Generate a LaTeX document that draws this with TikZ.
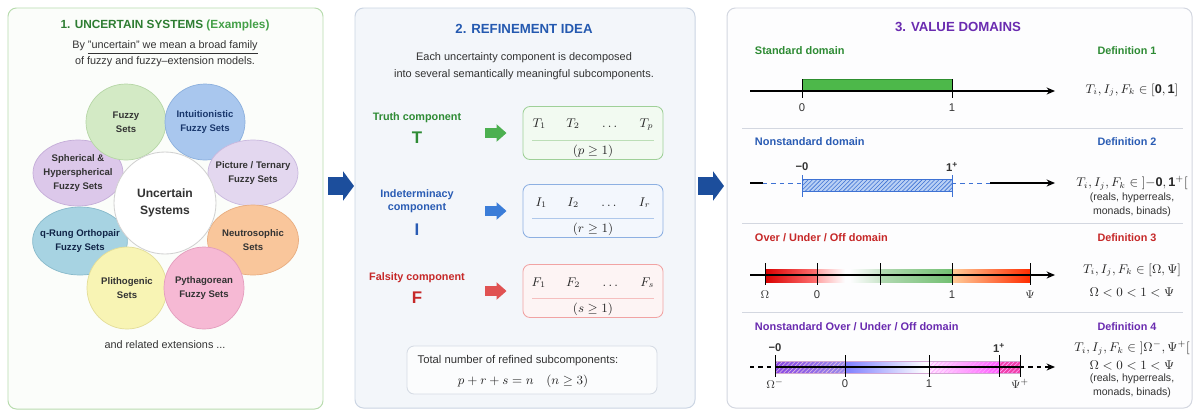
\documentclass[tikz,border=0pt]{standalone}
\usepackage{fontspec}
\setmainfont{Liberation Sans}
\usetikzlibrary{positioning,shapes.geometric,arrows.meta,patterns}

\definecolor{ttlgreen}{HTML}{2E7D32}
\definecolor{exgreen}{HTML}{43A047}
\definecolor{ttlblue}{HTML}{2459B0}
\definecolor{ttlpurple}{HTML}{6A2BB0}
\definecolor{txtgray}{HTML}{333333}
\definecolor{lblgreen}{HTML}{2E8B34}
\definecolor{lblblue}{HTML}{2A5CB4}
\definecolor{lblred}{HTML}{C62828}
\definecolor{bigblue}{HTML}{1C4E9C}
\definecolor{arrgreen}{HTML}{4CB050}
\definecolor{arrblue}{HTML}{3B7DD8}
\definecolor{arrred}{HTML}{E05252}
\definecolor{pnlAfill}{HTML}{FBFDFA}
\definecolor{pnlAline}{HTML}{B8DCAE}
\definecolor{pnlBfill}{HTML}{F3F6FA}
\definecolor{pnlBline}{HTML}{CBD5E3}
\definecolor{pnlCfill}{HTML}{FDFDFE}
\definecolor{pnlCline}{HTML}{D3D7E0}
\definecolor{tboxfill}{HTML}{F2FAF1}
\definecolor{tboxline}{HTML}{9FD098}
\definecolor{iboxfill}{HTML}{F3F7FD}
\definecolor{iboxline}{HTML}{8DB0E2}
\definecolor{fboxfill}{HTML}{FDF4F4}
\definecolor{fboxline}{HTML}{F1A3A3}
\definecolor{nboxfill}{HTML}{FBFCFD}
\definecolor{nboxline}{HTML}{D5DBE4}
\definecolor{fuzzyfill}{HTML}{D3EAC5}
\definecolor{fuzzyline}{HTML}{B6D6A6}
\definecolor{intufill}{HTML}{A9C7EE}
\definecolor{intuline}{HTML}{8CB0DD}
\definecolor{pictfill}{HTML}{E3D7EF}
\definecolor{pictline}{HTML}{C9B8DE}
\definecolor{neutfill}{HTML}{F9C69B}
\definecolor{neutline}{HTML}{E8AD80}
\definecolor{pythfill}{HTML}{F6B9D4}
\definecolor{pythline}{HTML}{E49DBD}
\definecolor{plithfill}{HTML}{F8F4B4}
\definecolor{plithline}{HTML}{E3DD98}
\definecolor{qrungfill}{HTML}{A7D3E2}
\definecolor{qrungline}{HTML}{88BACB}
\definecolor{spherfill}{HTML}{DCC8EA}
\definecolor{spherline}{HTML}{C4ADD8}
\definecolor{bargreen}{HTML}{4DB84A}
\definecolor{bargreenline}{HTML}{2F8F2F}
\definecolor{hatchblue}{HTML}{3E72D4}
\definecolor{barblue}{HTML}{B9D0F4}
\definecolor{purpA}{HTML}{8A46E4}
\definecolor{purpB}{HTML}{9A8AEC}

\newcommand{\pxl}{0.025cm}
\newcommand{\ttlfont}{\fontsize{9.4}{11}\selectfont\bfseries}

\tikzset{
  panel/.style={rounded corners=6pt, line width=0.7pt},
  petal/.style={ellipse, inner sep=-4.5pt, align=center, text=txtgray,
    font=\fontsize{6.8}{10}\selectfont\bfseries, line width=0.5pt},
  bigarrow/.style={draw=bigblue, line width=12.8pt,
    -{Triangle[length=7.8pt,width=20.6pt]}},
  fatarrow/.style={line width=7.1pt, -{Triangle[length=7.1pt,width=12pt]},
    shorten >=11.4pt},
  compbox/.style={rounded corners=5pt, minimum width=140*\pxl,
    minimum height=53*\pxl, line width=0.6pt},
  complab/.style={font=\fontsize{7.7}{9.2}\selectfont\bfseries, align=center},
  compsym/.style={font=\fontsize{12}{14}\selectfont\bfseries},
  rowmath/.style={font=\fontsize{9}{11}\selectfont, text=black!85},
  secname/.style={anchor=west, font=\fontsize{7.8}{9}\selectfont\bfseries},
  defname/.style={font=\fontsize{7.7}{9}\selectfont\bfseries},
  defmath/.style={font=\fontsize{9}{11}\selectfont, text=black!85},
  defnote/.style={font=\fontsize{7.5}{10}\selectfont, align=center, text=txtgray},
  ticklab/.style={font=\fontsize{8}{9}\selectfont, text=black!80},
  numaxis/.style={line width=0.8pt, -{Stealth[length=6pt,width=5pt]}},
  axtick/.style={line width=0.7pt},
  sepline/.style={draw=pnlCline, line width=0.7pt},
}

\begin{document}
\begin{tikzpicture}[x=0.025cm, y=-0.025cm]
\useasboundingbox[fill=white] (0,0) rectangle (1196,410);

% three panels
\draw[panel, draw=pnlAline, fill=pnlAfill] (8,8) rectangle (323,409);
\draw[panel, draw=pnlBline, fill=pnlBfill] (355,8) rectangle (695,408);
\draw[panel, draw=pnlCline, fill=pnlCfill] (727,8) rectangle (1192,408);

% arrows between the panels
\coordinate (gapAin) at (328,186);
\coordinate (gapAout) at (354,186);
\coordinate (gapBin) at (698,186);
\coordinate (gapBout) at (724,186);
\draw[bigarrow] (gapAin) -- (gapAout);
\draw[bigarrow] (gapBin) -- (gapBout);

% 1. uncertain systems
\node[font=\fontsize{8.4}{10}\selectfont\bfseries, text=ttlgreen] (ttlA) at (165,25)
  {1. UNCERTAIN SYSTEMS \textcolor{exgreen}{(Examples)}};
\node[font=\fontsize{7.7}{11.4}\selectfont, text=txtgray, align=center] (introA) at (165,54)
  {By \underline{"uncertain" we mean a broad family}\\of fuzzy and fuzzy–extension models.};

\node[petal, draw=spherline, fill=spherfill, minimum width=90*\pxl, minimum height=66*\pxl]
  (spher) at (78,173) {Spherical \&\\Hyperspherical\\Fuzzy Sets};
\node[petal, draw=fuzzyline, fill=fuzzyfill, minimum width=80*\pxl, minimum height=76*\pxl]
  (fuzzy) at (126,122) {Fuzzy\\Sets};
\node[petal, draw=intuline, fill=intufill, minimum width=80*\pxl, minimum height=76*\pxl,
  text=lblblue!60!black] (intu) at (205,122) {Intuitionistic\\Fuzzy Sets};
\node[petal, draw=pictline, fill=pictfill, minimum width=90*\pxl, minimum height=66*\pxl]
  (pict) at (253,173) {Picture / Ternary\\Fuzzy Sets};
\node[petal, draw=neutline, fill=neutfill, minimum width=91*\pxl, minimum height=70*\pxl]
  (neut) at (253,240) {Neutrosophic\\Sets};
\node[petal, draw=qrungline, fill=qrungfill, minimum width=93*\pxl, minimum height=68*\pxl,
  text=lblblue!40!black] (qrung) at (80,241) {q-Rung Orthopair\\Fuzzy Sets};
\node[petal, draw=plithline, fill=plithfill, minimum width=80*\pxl, minimum height=82*\pxl]
  (plith) at (127,288) {Plithogenic\\Sets};
\node[petal, draw=pythline, fill=pythfill, minimum width=80*\pxl, minimum height=82*\pxl]
  (pyth) at (204,288) {Pythagorean\\Fuzzy Sets};
\node[circle, fill=white, draw=black!18, line width=0.6pt, minimum size=102*\pxl, align=center,
  font=\fontsize{8.6}{12.5}\selectfont\bfseries, text=txtgray] (core) at (165,203)
  {Uncertain\\Systems};
\node[font=\fontsize{7.7}{9}\selectfont, text=txtgray] (moreA) at (165,345)
  {and related extensions ...};

% 2. refinement idea
\node[font=\ttlfont, text=ttlblue] (ttlB) at (524,29) {2. REFINEMENT IDEA};
\node[font=\fontsize{7.8}{12}\selectfont, text=txtgray, align=center] (introB) at (524,66)
  {Each uncertainty component is decomposed\\into several semantically meaningful subcomponents.};

\node[complab, text=lblgreen] (tlab) at (417,118) {Truth component};
\node[compsym, text=lblgreen] (tsym) at (417,138) {T};
\node[compbox, draw=tboxline, fill=tboxfill] (tbox) at (593,133) {};
\node[rowmath] (trow) at (593,124.5) {$T_1 \hspace{1.6em} T_2 \hspace{1.6em} \ldots \hspace{1.6em} T_p$};
\draw[draw=tboxline!70] (532,140.5) -- (654,140.5);
\node[rowmath] (tcond) at (593,151.5) {$(p \geq 1)$};
\coordinate (tfrom) at (485,133);
\draw[fatarrow, draw=arrgreen] (tfrom) -- (tbox);

\node[complab, text=lblblue] (ilab) at (417,201) {Indeterminacy\\component};
\node[compsym, text=lblblue] (isym) at (417,230) {I};
\node[compbox, draw=iboxline, fill=iboxfill] (ibox) at (593,211) {};
\node[rowmath] (irow) at (593,202.5) {$I_1 \hspace{1.6em} I_2 \hspace{1.6em} \ldots \hspace{1.6em} I_r$};
\draw[draw=iboxline!70] (532,218.5) -- (654,218.5);
\node[rowmath] (icond) at (593,229.5) {$(r \geq 1)$};
\coordinate (ifrom) at (485,211);
\draw[fatarrow, draw=arrblue] (ifrom) -- (ibox);

\node[complab, text=lblred] (flab) at (417,278) {Falsity component};
\node[compsym, text=lblred] (fsym) at (417,298) {F};
\node[compbox, draw=fboxline, fill=fboxfill] (fbox) at (593,291) {};
\node[rowmath] (frow) at (593,282.5) {$F_1 \hspace{1.6em} F_2 \hspace{1.6em} \ldots \hspace{1.6em} F_s$};
\draw[draw=fboxline!70] (532,298.5) -- (654,298.5);
\node[rowmath] (fcond) at (593,309.5) {$(s \geq 1)$};
\coordinate (ffrom) at (485,291);
\draw[fatarrow, draw=arrred] (ffrom) -- (fbox);

\node[draw=nboxline, fill=nboxfill, rounded corners=5pt, minimum width=250*\pxl,
  minimum height=48*\pxl, line width=0.6pt] (nbox) at (532,370) {};
\node[font=\fontsize{8}{9}\selectfont, text=txtgray] (ntext) at (518,361)
  {Total number of refined subcomponents:};
\node[rowmath] (nmath) at (523,381) {$p + r + s = n \quad (n \geq 3)$};

% 3. value domains
\node[font=\ttlfont, text=ttlpurple] (ttlC) at (958,27) {3. VALUE DOMAINS};

% standard
\node[secname, text=lblgreen] (secA) at (750,51) {Standard domain};
\node[defname, text=lblgreen] (defA) at (1127,51) {Definition 1};
\draw[draw=bargreenline, fill=bargreen, line width=0.6pt] (802,79) rectangle (952,91);
\draw[numaxis] (750,91) -- (1055,91);
\draw[axtick] (802,79) -- (802,98);
\draw[axtick] (952,79) -- (952,98);
\node[ticklab] at (802,108) {0};
\node[ticklab] at (952,108) {1};
\node[defmath] (mathA) at (1132,90) {$T_i, I_j, F_k \in \mathbf{[0,1]}$};
\draw[sepline] (742,128) -- (1183,128);

% nonstandard
\node[secname, text=lblblue] (secB) at (750,142) {Nonstandard domain};
\node[defname, text=lblblue] (defB) at (1127,142) {Definition 2};
\fill[barblue] (802,179) rectangle (952,191);
\fill[pattern=north east lines, pattern color=hatchblue] (802,179) rectangle (952,191);
\draw[draw=hatchblue, line width=0.6pt] (802,179) rectangle (952,191);
\draw[line width=0.8pt] (750,183) -- (763,183);
\draw[line width=0.7pt, hatchblue, dashed] (763,183) -- (802,183);
\draw[line width=0.7pt, hatchblue, dashed] (952,183) -- (990,183);
\draw[numaxis] (990,183) -- (1055,183);
\draw[axtick, hatchblue] (802,175) -- (802,197);
\draw[axtick, hatchblue] (952,175) -- (952,197);
\node[ticklab, font=\fontsize{8}{9}\selectfont\bfseries] at (802,167) {−0};
\node[ticklab, font=\fontsize{8}{9}\selectfont\bfseries] at (952,167) {1\textsuperscript{+}};
\node[defmath] (mathB) at (1132,183) {$T_i, I_j, F_k \in \mathbf{]{-}0, 1^{+}[}$};
\node[defnote] (noteB) at (1132,205) {(reals, hyperreals,\\monads, binads)};
\draw[sepline] (742,223) -- (1183,223);

% over / under / off
\node[secname, text=lblred] (secC) at (750,238) {Over / Under / Off domain};
\node[defname, text=lblred] (defC) at (1127,238) {Definition 3};
\shade[left color=red!85!black, right color=red!55!white] (765,269) rectangle (817,282);
\shade[left color=red!35!white, right color=pnlCfill] (817,269) rectangle (845,282);
\shade[left color=pnlCfill, right color=green!50!black!20] (850,269) rectangle (880,282);
\shade[left color=green!50!black!30, right color=green!55!black!55] (880,269) rectangle (952,282);
\shade[left color=orange!40!white, right color=red!65!orange] (952,269) rectangle (1030,282);
\draw[numaxis] (750,275) -- (1055,275);
\draw[axtick] (765,263) -- (765,285);
\draw[axtick] (817,263) -- (817,285);
\draw[axtick] (880,263) -- (880,285);
\draw[axtick] (952,263) -- (952,285);
\draw[axtick] (1030,263) -- (1030,285);
\node[ticklab] at (765,295) {$\Omega$};
\node[ticklab] at (817,295) {0};
\node[ticklab] at (952,295) {1};
\node[ticklab] at (1030,295) {$\Psi$};
\node[defmath] (mathC) at (1132,270) {$T_i, I_j, F_k \in [\Omega, \Psi]$};
\node[defmath] (ordC) at (1132,292) {$\Omega < 0 < 1 < \Psi$};
\draw[sepline] (742,312) -- (1183,312);

% nonstandard over / under / off
\node[secname, text=ttlpurple] (secD) at (750,327) {Nonstandard Over / Under / Off domain};
\node[defname, text=ttlpurple] (defD) at (1127,327) {Definition 4};
\shade[left color=purpA, right color=purpB] (775,361) rectangle (845,373);
\shade[left color=blue!50!white, right color=pnlCfill] (845,361) rectangle (925,373);
\shade[left color=magenta!8!white, right color=magenta!65!white] (929,361) rectangle (999,373);
\fill[magenta!75!white] (999,361) rectangle (1020,373);
\fill[pattern=north east lines, pattern color=white!75!violet] (775,361) rectangle (845,373);
\fill[pattern=north east lines, pattern color=magenta!35!white] (929,361) rectangle (1020,373);
\draw[violet!35, line width=0.5pt] (775,361) rectangle (1020,373);
\draw[line width=0.8pt, dashed] (750,367) -- (775,367);
\draw[line width=0.8pt] (775,367) -- (1020,367);
\draw[numaxis, dashed] (1020,367) -- (1055,367);
\draw[axtick] (775,355) -- (775,377);
\draw[axtick] (845,355) -- (845,377);
\draw[axtick] (929,355) -- (929,377);
\draw[axtick] (999,355) -- (999,377);
\draw[axtick] (1020,355) -- (1020,377);
\node[ticklab, font=\fontsize{8}{9}\selectfont\bfseries] at (775,348) {−0};
\node[ticklab, font=\fontsize{8}{9}\selectfont\bfseries] at (999,348) {1\textsuperscript{+}};
\node[ticklab] at (775,384) {$\Omega^{-}$};
\node[ticklab] at (845,384) {0};
\node[ticklab] at (929,384) {1};
\node[ticklab] at (1020,384) {$\Psi^{+}$};
\node[defmath] (mathD) at (1132,348) {$T_i, I_j, F_k \in \mathopen{]}\Omega^{-}, \Psi^{+}\mathclose{[}$};
\node[defmath] (ordD) at (1132,365) {$\Omega < 0 < 1 < \Psi$};
\node[defnote] (noteD) at (1132,386) {(reals, hyperreals,\\monads, binads)};
\end{tikzpicture}
\end{document}
